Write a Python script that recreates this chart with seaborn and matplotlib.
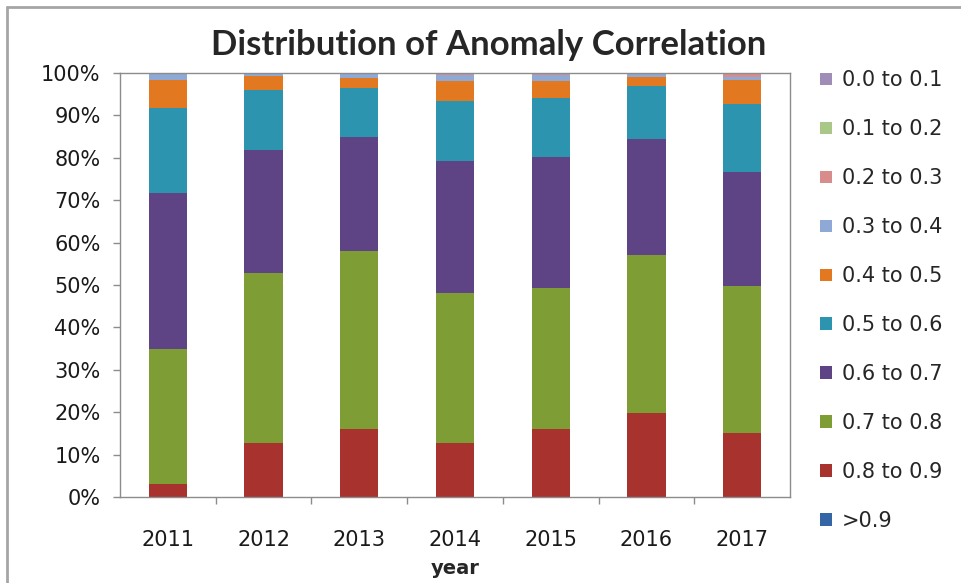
import matplotlib
matplotlib.use("Agg")
import matplotlib.pyplot as plt
import pandas as pd
import seaborn as sns
from matplotlib.lines import Line2D
from matplotlib.patches import Patch
from matplotlib.ticker import FixedLocator

sns.set_theme(style="white")
plt.rcParams["font.family"] = ["DejaVu Sans"]

years = [2011, 2012, 2013, 2014, 2015, 2016, 2017]

# legend order, top to bottom (top of the stack first)
bins = [
    "0.0 to 0.1",
    "0.1 to 0.2",
    "0.2 to 0.3",
    "0.3 to 0.4",
    "0.4 to 0.5",
    "0.5 to 0.6",
    "0.6 to 0.7",
    "0.7 to 0.8",
    "0.8 to 0.9",
    ">0.9",
]

# share of cases (%) per year
share_00_01 = [0.0, 0.0, 0.0, 0.0, 0.0, 0.0, 0.0]
share_01_02 = [0.0, 0.0, 0.0, 0.0, 0.0, 0.0, 0.0]
share_02_03 = [0.0, 0.3, 0.3, 0.4, 0.5, 0.0, 1.0]
share_03_04 = [1.7, 0.3, 0.9, 1.4, 1.3, 0.9, 0.7]
share_04_05 = [6.6, 3.4, 2.4, 4.7, 4.2, 2.2, 5.7]
share_05_06 = [20.0, 14.2, 11.4, 14.3, 13.8, 12.5, 15.9]
share_06_07 = [36.8, 29.0, 27.0, 31.1, 30.9, 27.4, 26.9]
share_07_08 = [31.8, 40.1, 42.0, 35.4, 33.3, 37.2, 34.7]
share_08_09 = [3.1, 12.7, 16.0, 12.7, 16.0, 19.8, 15.1]
share_09_10 = [0.0, 0.0, 0.0, 0.0, 0.0, 0.0, 0.0]

shares = [share_00_01, share_01_02, share_02_03, share_03_04, share_04_05,
          share_05_06, share_06_07, share_07_08, share_08_09, share_09_10]

colors = ["#9F8DB8", "#A9C787", "#D98C8C", "#8EA9D5", "#E2781F",
          "#2C94AE", "#5E4485", "#7E9E35", "#A8322D", "#3465A4"]
palette = dict(zip(bins, colors))

rows = []
for name, vals in zip(bins, shares):
    for y, v in zip(years, vals):
        rows.append({"year": y, "bin": name, "share": v})
df = pd.DataFrame(rows)

W, H = 962, 583
fig = plt.figure(figsize=(W / 100, H / 100), dpi=100)
ax = fig.add_axes([120 / W, 1 - 497 / H, 670 / W, 424 / H])

sns.histplot(
    data=df, x="year", weights="share", hue="bin", hue_order=bins,
    multiple="stack", discrete=True, shrink=0.4, palette=palette,
    linewidth=0, alpha=1, legend=False, ax=ax,
)

tick_size = 15
ax.set_xlim(2010.5, 2017.5)
ax.set_ylim(0, 100)
ax.set_yticks(range(0, 101, 10))
ax.set_yticklabels([f"{v}%" for v in range(0, 101, 10)], fontsize=tick_size, color="#1a1a1a")
ax.set_xticks(years)
ax.set_xticklabels([str(y) for y in years], fontsize=tick_size, color="#1a1a1a")
ax.xaxis.set_minor_locator(FixedLocator([y + 0.5 for y in years[:-1]]))
ax.tick_params(axis="x", which="major", length=0, pad=24)
ax.tick_params(axis="x", which="minor", length=5, width=1, color="#8c8c8c", direction="out", bottom=True)
ax.tick_params(axis="y", which="major", length=5, width=1, color="#8c8c8c", direction="out", left=True, pad=9)
ax.set_xlabel("year", fontsize=14, fontweight="bold", labelpad=6)
ax.set_ylabel("")
for side in ["left", "right", "top", "bottom"]:
    ax.spines[side].set_color("#8c8c8c")
    ax.spines[side].set_linewidth(1)
ax.grid(False)

fig.text(489 / W, 1 - 45 / H, "Distribution of Anomaly Correlation",
         ha="center", va="center", fontsize=25, fontweight="bold", family="Lato")

handles = [Patch(facecolor=palette[b], edgecolor="none") for b in bins]
fig.legend(handles, bins, loc="upper left", bbox_to_anchor=(812 / W, 1 - 62 / H),
           frameon=False, fontsize=15, handlelength=0.55, handleheight=0.55,
           handletextpad=0.5, labelspacing=1.39, borderaxespad=0)

# outer chart frame (left and top edges only)
fig.add_artist(Line2D([7.5 / W, 7.5 / W], [0, 1 - 6.5 / H], transform=fig.transFigure,
                      color="#a6a6a6", lw=2))
fig.add_artist(Line2D([7.5 / W, 1], [1 - 6.5 / H, 1 - 6.5 / H], transform=fig.transFigure,
                      color="#a6a6a6", lw=2))

fig.savefig("out.png", dpi=100, facecolor="white")
